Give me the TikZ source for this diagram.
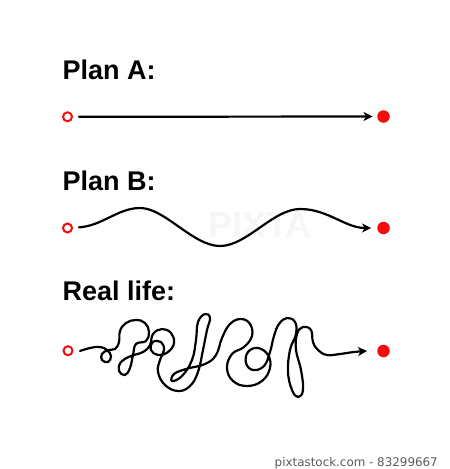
\documentclass[tikz,border=0pt]{standalone}
\usepackage{fontspec}
\setmainfont{Liberation Sans}
\newfontfamily\stockfont{DejaVu Sans}
\usetikzlibrary{arrows.meta}
\definecolor{dotRed}{RGB}{245,12,12}
\definecolor{stockGray}{RGB}{90,90,90}
\tikzset{
    plan title/.style={anchor=base west, inner sep=0pt, font=\bfseries\fontsize{27}{32}\selectfont},
    start dot/.style={circle, draw=dotRed, line width=2pt, fill=white, minimum size=9pt, inner sep=0pt},
    end dot/.style={circle, fill=dotRed, minimum size=12.5pt, inner sep=0pt},
    route/.style={line width=2.2pt, line cap=round, -{Stealth[length=9pt,width=9pt,inset=2.5pt]}}
}

\begin{document}
\begin{tikzpicture}[x=1pt,y=-1pt]
\useasboundingbox[fill=white] (0,0) rectangle (450,469);

% faint stock marks
\node[inner sep=0pt, text=gray!7, font=\bfseries\fontsize{36}{40}\selectfont] (mark) at (260,225) {PIXTA};
\node[anchor=base east, inner sep=0pt, text=stockGray, font=\stockfont\fontsize{11.9}{14}\selectfont] (stock) at (438,466) {pixtastock.com - 83299667};

% Plan A
\node[plan title] (titleA) at (62.5,79.5) {Plan A:};
\node[start dot] (startA) at (67.5,116.8) {};
\node[end dot] (endA) at (383.5,116.5) {};
\draw[route, shorten <=6pt, shorten >=4.5pt] (startA) -- (endA);

% Plan B
\node[plan title] (titleB) at (62.5,190) {Plan B:};
\node[start dot] (startB) at (67.5,228) {};
\node[end dot] (endB) at (383.5,228) {};
\coordinate (peakB1) at (140,208);
\coordinate (lowB) at (220,246);
\coordinate (peakB2) at (300,209);
\draw[route, shorten <=6pt, shorten >=6pt] (startB)
    .. controls (102,226) and (118,208) .. (peakB1)
    .. controls (165,208) and (193,246) .. (lowB)
    .. controls (247,246) and (273,209) .. (peakB2)
    .. controls (328,209) and (345,228) .. (endB);

% Real life
\node[plan title] (titleC) at (62.5,300) {Real life:};
\node[start dot] (startC) at (68,350.7) {};
\node[end dot] (endC) at (383.5,351) {};
\draw[route] plot[smooth, tension=0.7] coordinates {
    (80,351) (90,348) (100,347) (107,350)
    (111,356) (108,362) (102,360) (102,354) (108,350) (115,349)
    (119,342) (120,331) (126,323) (136,320) (145,323) (149,332) (146,341) (136,344)
    (133,355) (130,368) (125,375) (119,371) (121,362) (131,356) (143,352)
    (150,345) (153,334) (162,329) (171,333) (174,343) (168,352) (158,355) (151,350)
    (153,342) (161,342) (164,350) (160,360)
    (158,372) (165,385) (178,391) (190,386) (198,372) (203,350) (207,330) (210,318)
    (205,314) (198,322) (196,340) (192,360) (182,376) (172,381) (174,374) (186,369) (205,364)
    (216,355) (222,338) (230,324) (241,319) (250,324) (252,336) (244,347) (232,354)
    (227,368) (233,381) (247,386) (262,381) (270,368) (268,355) (258,348) (248,352)
    (246,363) (253,370) (264,366) (270,352) (274,336) (279,324) (287,318) (295,322)
    (296,334) (290,350) (288,372) (292,390) (298,397) (303,390) (301,370) (296,350)
    (297,334) (303,327) (311,330) (313,342) (318,350) (327,355) (340,354) (354,352)
    (367,351)};
\end{tikzpicture}
\end{document}
